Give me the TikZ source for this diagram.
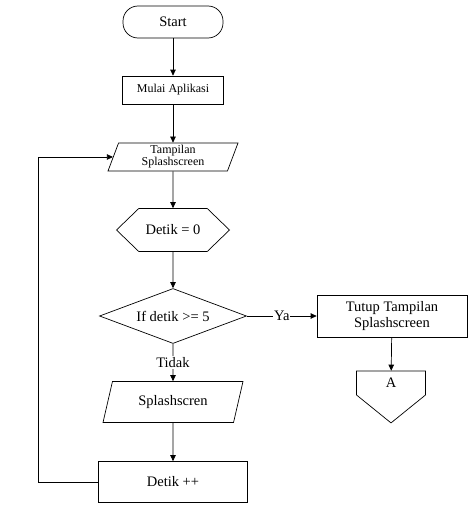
\documentclass[tikz,border=0pt]{standalone}
\usepackage{fontspec}
\setmainfont{Liberation Serif}
\usetikzlibrary{arrows.meta, shapes.geometric, shapes.symbols}

\begin{document}
\begin{tikzpicture}[x=1pt, y=-1pt, line width=0.7pt,
    font=\fontsize{14.5}{15.5}\selectfont,
    arr/.style={-{Triangle[length=6pt, width=5.5pt]}},
    term/.style={draw, rectangle, rounded corners=15pt, minimum width=100pt, minimum height=32pt},
    box/.style={draw, rectangle, align=center, inner sep=1pt},
    io/.style={draw, trapezium, trapezium stretches body, align=center, inner sep=1pt},
    hexa/.style={draw, signal, signal to=west and east, signal pointer angle=88, inner sep=1pt},
    decision/.style={draw, diamond, aspect=2.67, inner sep=1pt},
    offpage/.style={draw, signal, signal to=south, signal from=nowhere, signal pointer angle=102, inner sep=1pt},
    lbl/.style={fill=white, inner sep=1pt}]
    \useasboundingbox (0,0) rectangle (474,511);
    \node[term] (start) at (173,22) {Start};
    \node[box, minimum width=101pt, minimum height=28pt, font=\fontsize{12}{13}\selectfont] (mulai) at (173,90) {Mulai Aplikasi};
    \node[io, trapezium left angle=67, trapezium right angle=113, minimum width=130pt, minimum height=28pt,
        font=\fontsize{12}{13}\selectfont] (tampil) at (173,157) {Tampilan\\[-1pt]Splashscreen};
    \node[hexa, minimum width=113pt, minimum height=43pt] (nol) at (173,230) {Detik = 0};
    \node[decision, minimum width=147pt, minimum height=55pt] (cek) at (173,316) {If detik >= 5};
    \node[box, minimum width=150pt, minimum height=42pt] (tutup) at (392,316) {Tutup Tampilan\\Splashscreen};
    \node[offpage, minimum width=69pt, minimum height=29pt] (a) at (391,383) {A};
    \node[io, trapezium left angle=58, trapezium right angle=122, minimum width=140pt, minimum height=41pt] (scren) at (173,402) {Splashscren};
    \node[box, minimum width=149pt, minimum height=41pt] (plus) at (173,482) {Detik ++};
    \coordinate (loop) at (38,0);

    \draw[arr] (start) -- (mulai);
    \draw[arr] (mulai) -- (tampil);
    \draw[arr] (tampil) -- (nol);
    \draw[arr] (nol) -- (cek);
    \draw[arr] (cek.east) -- node[lbl] {Ya} (tutup.west);
    \draw[arr] (cek.south) -- node[lbl] {Tidak} (scren.north);
    \draw[arr] (tutup) -- (a);
    \draw[arr] (scren) -- (plus);
    \draw[arr] (plus.west) -- (plus.west -| loop) |- (tampil.west);
\end{tikzpicture}
\end{document}
